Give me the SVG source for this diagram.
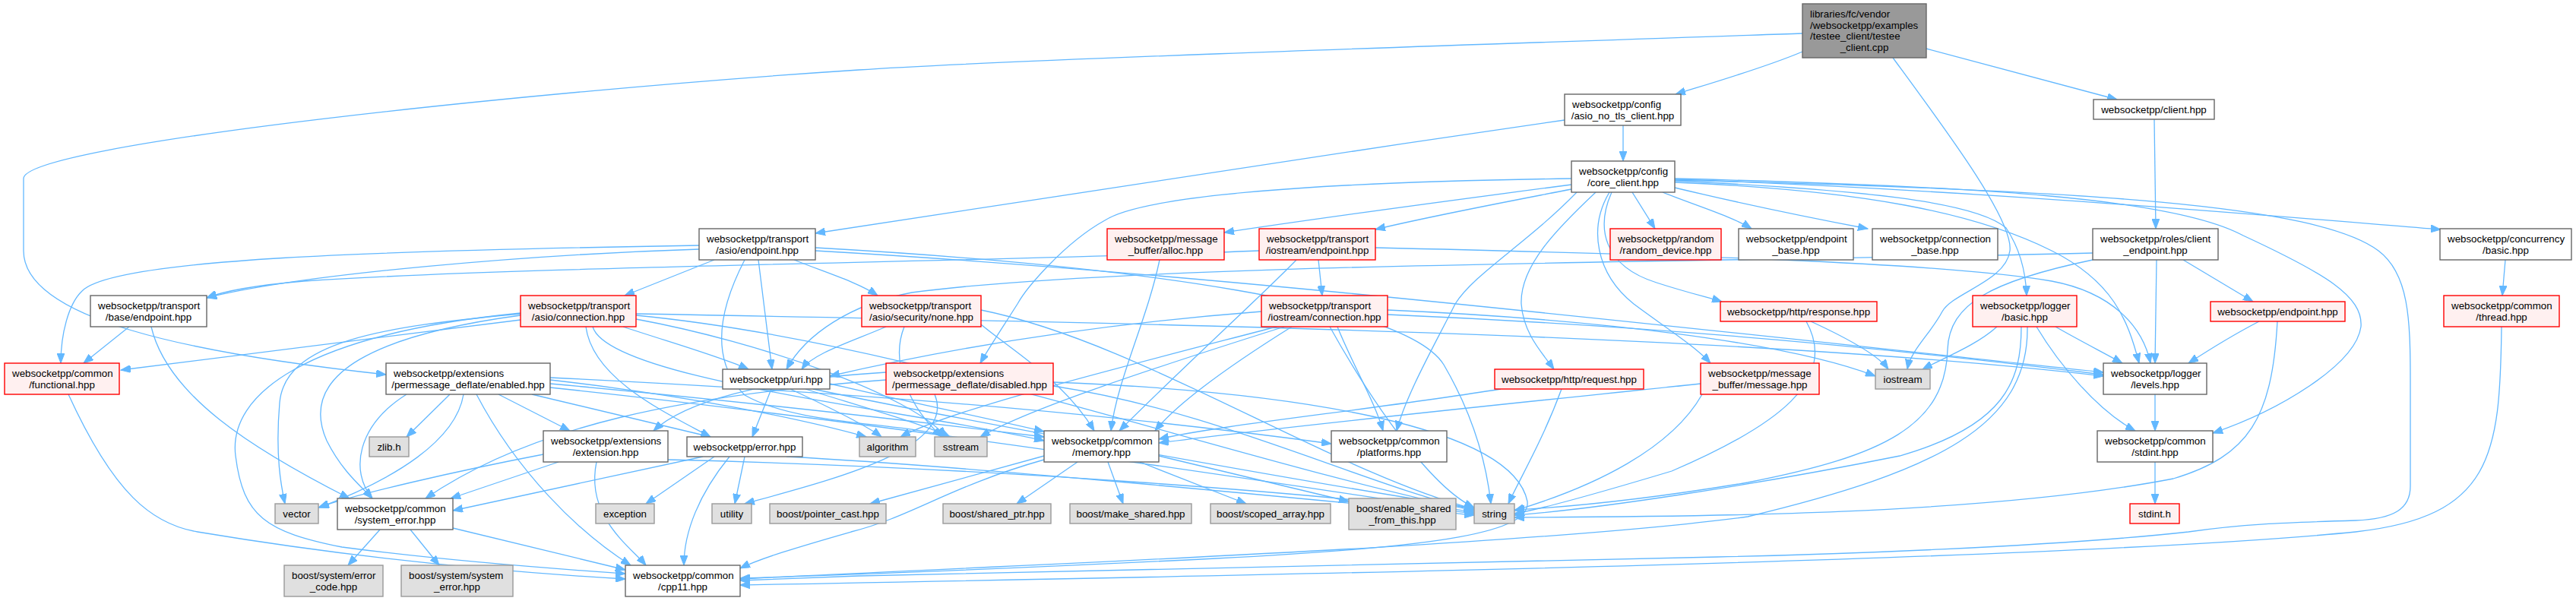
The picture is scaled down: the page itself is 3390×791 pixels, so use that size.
<svg xmlns="http://www.w3.org/2000/svg" width="3390" height="791" viewBox="0 0 3390 791">
<style>
.e{fill:none;stroke:#63b8ff;stroke-width:1.3;marker-end:url(#ah)}
.w{fill:#ffffff;stroke:#666666;stroke-width:1.4}
.g{fill:#e0e0e0;stroke:#999999;stroke-width:1.4}
.r{fill:#fff0f0;stroke:#ff0000;stroke-width:1.4}
.m{fill:#999999;stroke:#666666;stroke-width:1.4}
text{font-family:"Liberation Sans",Arial,Helvetica,sans-serif;font-size:13.33px;fill:#000000}
.s{text-anchor:start}
.c{text-anchor:middle}
</style>
<defs>
<marker id="ah" markerUnits="userSpaceOnUse" markerWidth="14" markerHeight="10" refX="13" refY="5" orient="auto"><path d="M0,0 L13,5 L0,10 z" fill="#63b8ff" stroke="#63b8ff" stroke-width="1"/></marker>
</defs>
<rect width="3390" height="791" fill="#ffffff"/>
<g id="connectors">
<path class="e" d="M2372,68 C2320,90 2250,110 2205,124"/>
<path class="e" d="M2535,64 L2786,131"/>
<path class="e" d="M2372,44 C1900,60 1300,80 1130,92 C700,120 31,190 31,235 L31,330 C31,420 250,465 508,493"/>
<path class="e" d="M2491,76 C2560,170 2650,290 2645,330 C2640,370 2570,385 2556,410 C2540,440 2515,460 2510,486"/>
<path class="e" d="M2136,165 L2136,212"/>
<path class="e" d="M2059,158 C1700,210 1300,270 1073,307"/>
<path class="e" d="M2835,157 L2837,301"/>
<path class="e" d="M2068,243 C1900,265 1750,285 1611,306"/>
<path class="e" d="M2068,249 C1960,270 1880,285 1810,302"/>
<path class="e" d="M2148,253 L2178,301"/>
<path class="e" d="M2188,253 C2230,270 2280,285 2305,301"/>
<path class="e" d="M2204,247 C2300,270 2400,290 2458,301"/>
<path class="e" d="M2204,236 C2600,250 3000,285 3212,302"/>
<path class="e" d="M2204,237 C2750,250 3050,270 3130,330 C3170,360 3172,420 3172,500 L3172,640 C3172,670 3150,683 3100,685 C3000,688 2950,690 2880,700 C2700,720 2400,730 2260,733 C1800,745 1400,752 1130,758 L974,764"/>
<path class="e" d="M2204,235 C2600,245 2860,260 2952,310 C3060,360 3110,390 3107,430 C3100,480 3000,540 2912,570"/>
<path class="e" d="M2204,238 C2450,250 2600,265 2640,300 C2660,330 2666,360 2667,389"/>
<path class="e" d="M2204,240 C2450,250 2600,280 2700,330 C2780,370 2800,420 2815,478"/>
<path class="e" d="M2100,253 C2050,300 2000,350 2002,400 C2005,440 2030,465 2045,486"/>
<path class="e" d="M2075,253 C2010,320 1940,360 1915,400 C1890,450 1850,520 1838,567"/>
<path class="e" d="M2121,253 C2100,300 2110,350 2180,372 C2220,385 2250,392 2266,397"/>
<path class="e" d="M2118,253 C2090,300 2100,360 2150,400 C2190,430 2230,455 2251,478"/>
<path class="e" d="M2068,235 C1700,240 1500,260 1454,290 C1400,320 1350,380 1339,400 C1320,430 1300,460 1290,478"/>
<path class="e" d="M920,323 C500,330 150,340 108,383 C90,400 80,440 80,478"/>
<path class="e" d="M920,328 C700,335 400,360 272,392"/>
<path class="e" d="M940,342 L822,389"/>
<path class="e" d="M998,342 C1003,380 1010,440 1016,486"/>
<path class="e" d="M1045,342 C1090,360 1130,372 1155,389"/>
<path class="e" d="M980,342 C950,400 930,470 980,520 C1050,560 1180,555 1250,575"/>
<path class="e" d="M1073,330 C1600,360 2200,430 2768,490"/>
<path class="e" d="M1073,326 C1500,350 1850,400 1900,480 C1935,540 1955,600 1962,663"/>
<path class="e" d="M1657,330 C1300,345 700,350 400,370 C330,376 290,385 272,392"/>
<path class="e" d="M1735,342 L1740,389"/>
<path class="e" d="M1706,342 C1670,380 1560,480 1473,567"/>
<path class="e" d="M1810,326 C2200,335 2550,345 2700,370 C2780,385 2820,430 2830,478"/>
<path class="e" d="M685,421 L159,487"/>
<path class="e" d="M685,413 C500,430 375,450 368,530 C362,600 370,640 375,663"/>
<path class="e" d="M685,415 C500,440 390,490 430,580 C450,620 475,640 490,656"/>
<path class="e" d="M685,412 C400,440 300,520 310,600 C320,680 350,700 450,720 C600,740 750,750 823,755"/>
<path class="e" d="M820,430 C880,450 950,470 985,486"/>
<path class="e" d="M771,430 C780,500 880,545 935,575"/>
<path class="e" d="M780,430 C800,500 1200,540 1374,580"/>
<path class="e" d="M837,415 C1200,450 1600,600 1940,672"/>
<path class="e" d="M837,413 C1500,425 2300,440 2768,495"/>
<path class="e" d="M837,420 C1000,450 1200,520 1245,575"/>
<path class="e" d="M1166,430 C1120,450 1070,465 1055,486"/>
<path class="e" d="M1291,427 C1330,460 1400,500 1440,567"/>
<path class="e" d="M1190,430 C1170,480 1200,540 1240,575"/>
<path class="e" d="M1291,408 C1500,450 1750,620 1940,670"/>
<path class="e" d="M1660,410 C1400,430 1200,470 1092,495"/>
<path class="e" d="M1690,430 C1500,490 1350,540 1290,575"/>
<path class="e" d="M1700,430 C1620,480 1550,530 1520,567"/>
<path class="e" d="M1760,430 C1780,480 1810,530 1820,567"/>
<path class="e" d="M1750,430 C1800,520 1880,640 1940,668"/>
<path class="e" d="M1826,414 C2200,430 2500,460 2768,493"/>
<path class="e" d="M1826,408 C2100,420 2350,450 2468,495"/>
<path class="e" d="M1680,430 C1450,490 1250,540 1185,575"/>
<path class="e" d="M2383,423 C2420,440 2470,465 2485,486"/>
<path class="e" d="M2377,423 C2420,500 2340,560 2200,620 C2100,650 2030,670 1993,676"/>
<path class="e" d="M1975,512 C1800,540 1600,560 1525,578"/>
<path class="e" d="M2055,512 C2030,580 2000,630 1985,663"/>
<path class="e" d="M2238,505 C2000,530 1700,560 1525,583"/>
<path class="e" d="M2240,519 C2200,590 2100,640 1993,672"/>
<path class="e" d="M2628,430 C2600,455 2560,470 2530,486"/>
<path class="e" d="M2705,430 C2740,450 2770,465 2793,478"/>
<path class="e" d="M2680,430 C2710,480 2760,540 2810,567"/>
<path class="e" d="M2660,430 C2660,500 2640,560 2500,600 C2300,640 2100,670 1993,678"/>
<path class="e" d="M2668,430 C2670,560 2550,620 2300,680 C2000,720 1300,745 974,762"/>
<path class="e" d="M2973,423 C2940,440 2900,465 2880,478"/>
<path class="e" d="M2997,423 C2990,550 2960,600 2860,630 C2600,680 2200,680 1993,681"/>
<path class="e" d="M3292,430 C3290,600 3280,680 3100,700 C2700,740 1500,760 974,770"/>
<path class="e" d="M3297,342 L3293,389"/>
<path class="e" d="M2873,342 L2965,397"/>
<path class="e" d="M2838,342 L2836,478"/>
<path class="e" d="M2754,333 C2300,345 1500,345 1200,385 C1120,400 1060,440 1035,486"/>
<path class="e" d="M2754,342 C2620,370 2565,400 2563,460 C2560,560 2480,600 2300,635 C2150,660 2050,668 1993,671"/>
<path class="e" d="M2836,519 L2836,567"/>
<path class="e" d="M2836,608 L2836,663"/>
<path class="e" d="M90,519 C150,650 200,690 260,700 C500,740 700,755 823,762"/>
<path class="e" d="M170,430 L110,478"/>
<path class="e" d="M199,430 C220,520 330,590 460,656"/>
<path class="e" d="M1526,342 C1510,420 1470,500 1462,567"/>
<path class="e" d="M535,519 C470,560 460,620 490,656"/>
<path class="e" d="M592,519 L535,575"/>
<path class="e" d="M610,519 C600,580 520,630 420,668"/>
<path class="e" d="M627,519 C680,620 760,700 830,744"/>
<path class="e" d="M656,519 L750,567"/>
<path class="e" d="M700,519 L935,575"/>
<path class="e" d="M724,500 C900,520 1050,550 1140,575"/>
<path class="e" d="M724,505 C1000,530 1250,560 1374,575"/>
<path class="e" d="M724,497 C1200,520 1500,550 1752,584"/>
<path class="e" d="M724,510 C1200,560 1700,640 1940,674"/>
<path class="e" d="M1386,503 C1700,515 1990,560 2010,660 C2015,700 1900,720 1600,735 C1300,750 1100,757 974,761"/>
<path class="e" d="M1166,500 C900,520 700,560 560,656"/>
<path class="e" d="M1230,519 C1260,590 1100,630 980,663"/>
<path class="e" d="M1386,508 C1600,540 1800,640 1940,671"/>
<path class="e" d="M1166,490 C1000,500 900,530 860,567"/>
<path class="e" d="M1015,512 L990,575"/>
<path class="e" d="M1040,512 C1100,540 1140,560 1160,575"/>
<path class="e" d="M1060,512 C1150,540 1220,560 1250,575"/>
<path class="e" d="M1070,512 C1300,560 1750,640 1940,669"/>
<path class="e" d="M1092,505 C1200,530 1320,555 1374,568"/>
<path class="e" d="M785,608 C770,680 830,720 850,744"/>
<path class="e" d="M735,608 L593,656"/>
<path class="e" d="M715,598 C600,620 470,650 419,668"/>
<path class="e" d="M879,605 C1300,615 1750,650 1940,676"/>
<path class="e" d="M925,601 L596,672"/>
<path class="e" d="M940,601 L850,663"/>
<path class="e" d="M980,601 L967,663"/>
<path class="e" d="M960,601 C920,650 900,700 900,744"/>
<path class="e" d="M1035,601 C1300,615 1750,660 1940,678"/>
<path class="e" d="M1374,600 L1145,663"/>
<path class="e" d="M1418,608 L1338,663"/>
<path class="e" d="M1458,608 L1478,663"/>
<path class="e" d="M1500,608 L1640,663"/>
<path class="e" d="M1525,600 L1775,660"/>
<path class="e" d="M1374,605 C1250,640 1200,680 1120,700 C1050,720 1000,735 974,748"/>
<path class="e" d="M500,697 L458,744"/>
<path class="e" d="M540,697 L578,744"/>
<path class="e" d="M596,695 L823,750"/>
</g>
<g id="node-main"><rect class="m" x="2372" y="5" width="163" height="71"/><text class="s" x="2382" y="23">libraries/fc/vendor</text><text class="s" x="2382" y="37.7">/websocketpp/examples</text><text class="s" x="2382" y="52.3">/testee_client/testee</text><text class="c" x="2453.5" y="67">_client.cpp</text></g>
<g id="node-asio-no-tls-client"><rect class="w" x="2059" y="124" width="153" height="41"/><text class="s" x="2069" y="142">websocketpp/config</text><text class="c" x="2135.5" y="156.7">/asio_no_tls_client.hpp</text></g>
<g id="node-client"><rect class="w" x="2755" y="131" width="159" height="26"/><text class="c" x="2834.5" y="149">websocketpp/client.hpp</text></g>
<g id="node-core-client"><rect class="w" x="2068" y="212" width="136" height="41"/><text class="s" x="2078" y="230">websocketpp/config</text><text class="c" x="2136" y="244.7">/core_client.hpp</text></g>
<g id="node-asio-endpoint"><rect class="w" x="920" y="301" width="153" height="41"/><text class="s" x="930" y="319">websocketpp/transport</text><text class="c" x="996.5" y="333.7">/asio/endpoint.hpp</text></g>
<g id="node-alloc"><rect class="r" x="1457" y="301" width="154" height="41"/><text class="s" x="1467" y="319">websocketpp/message</text><text class="c" x="1534" y="333.7">_buffer/alloc.hpp</text></g>
<g id="node-iostream-endpoint"><rect class="r" x="1657" y="301" width="153" height="41"/><text class="s" x="1667" y="319">websocketpp/transport</text><text class="c" x="1733.5" y="333.7">/iostream/endpoint.hpp</text></g>
<g id="node-random-device"><rect class="r" x="2119" y="301" width="146" height="41"/><text class="s" x="2129" y="319">websocketpp/random</text><text class="c" x="2192" y="333.7">/random_device.hpp</text></g>
<g id="node-endpoint-base"><rect class="w" x="2288" y="301" width="151" height="41"/><text class="s" x="2298" y="319">websocketpp/endpoint</text><text class="c" x="2363.5" y="333.7">_base.hpp</text></g>
<g id="node-connection-base"><rect class="w" x="2464" y="301" width="165" height="41"/><text class="s" x="2474" y="319">websocketpp/connection</text><text class="c" x="2546.5" y="333.7">_base.hpp</text></g>
<g id="node-client-endpoint"><rect class="w" x="2754" y="301" width="165" height="41"/><text class="s" x="2764" y="319">websocketpp/roles/client</text><text class="c" x="2836.5" y="333.7">_endpoint.hpp</text></g>
<g id="node-concurrency-basic"><rect class="w" x="3211" y="301" width="173" height="41"/><text class="s" x="3221" y="319">websocketpp/concurrency</text><text class="c" x="3297.5" y="333.7">/basic.hpp</text></g>
<g id="node-base-endpoint"><rect class="w" x="119" y="389" width="153" height="41"/><text class="s" x="129" y="407">websocketpp/transport</text><text class="c" x="195.5" y="421.7">/base/endpoint.hpp</text></g>
<g id="node-asio-connection"><rect class="r" x="685" y="389" width="152" height="41"/><text class="s" x="695" y="407">websocketpp/transport</text><text class="c" x="761" y="421.7">/asio/connection.hpp</text></g>
<g id="node-security-none"><rect class="r" x="1134" y="389" width="157" height="41"/><text class="s" x="1144" y="407">websocketpp/transport</text><text class="c" x="1212.5" y="421.7">/asio/security/none.hpp</text></g>
<g id="node-iostream-connection"><rect class="r" x="1660" y="389" width="166" height="41"/><text class="s" x="1670" y="407">websocketpp/transport</text><text class="c" x="1743" y="421.7">/iostream/connection.hpp</text></g>
<g id="node-http-response"><rect class="r" x="2264" y="397" width="206" height="26"/><text class="c" x="2367" y="415">websocketpp/http/response.hpp</text></g>
<g id="node-logger-basic"><rect class="r" x="2596" y="389" width="137" height="41"/><text class="s" x="2606" y="407">websocketpp/logger</text><text class="c" x="2664.5" y="421.7">/basic.hpp</text></g>
<g id="node-endpoint"><rect class="r" x="2909" y="397" width="177" height="26"/><text class="c" x="2997.5" y="415">websocketpp/endpoint.hpp</text></g>
<g id="node-thread"><rect class="r" x="3216" y="389" width="152" height="41"/><text class="s" x="3226" y="407">websocketpp/common</text><text class="c" x="3292" y="421.7">/thread.hpp</text></g>
<g id="node-functional"><rect class="r" x="6" y="478" width="151" height="41"/><text class="s" x="16" y="496">websocketpp/common</text><text class="c" x="81.5" y="510.7">/functional.hpp</text></g>
<g id="node-pmd-enabled"><rect class="w" x="508" y="478" width="216" height="41"/><text class="s" x="518" y="496">websocketpp/extensions</text><text class="c" x="616" y="510.7">/permessage_deflate/enabled.hpp</text></g>
<g id="node-uri"><rect class="w" x="951" y="486" width="141" height="26"/><text class="c" x="1021.5" y="504">websocketpp/uri.hpp</text></g>
<g id="node-pmd-disabled"><rect class="r" x="1166" y="478" width="220" height="41"/><text class="s" x="1176" y="496">websocketpp/extensions</text><text class="c" x="1276" y="510.7">/permessage_deflate/disabled.hpp</text></g>
<g id="node-http-request"><rect class="r" x="1967" y="486" width="196" height="26"/><text class="c" x="2065" y="504">websocketpp/http/request.hpp</text></g>
<g id="node-message"><rect class="r" x="2238" y="478" width="156" height="41"/><text class="s" x="2248" y="496">websocketpp/message</text><text class="c" x="2316" y="510.7">_buffer/message.hpp</text></g>
<g id="node-iostream"><rect class="g" x="2468" y="486" width="72" height="26"/><text class="c" x="2504" y="504">iostream</text></g>
<g id="node-levels"><rect class="w" x="2768" y="478" width="136" height="41"/><text class="s" x="2778" y="496">websocketpp/logger</text><text class="c" x="2836" y="510.7">/levels.hpp</text></g>
<g id="node-zlib"><rect class="g" x="486" y="575" width="52" height="26"/><text class="c" x="512" y="593">zlib.h</text></g>
<g id="node-extension"><rect class="w" x="715" y="567" width="164" height="41"/><text class="s" x="725" y="585">websocketpp/extensions</text><text class="c" x="797" y="599.7">/extension.hpp</text></g>
<g id="node-error"><rect class="w" x="904" y="575" width="152" height="26"/><text class="c" x="980" y="593">websocketpp/error.hpp</text></g>
<g id="node-algorithm"><rect class="g" x="1131" y="575" width="74" height="26"/><text class="c" x="1168" y="593">algorithm</text></g>
<g id="node-sstream"><rect class="g" x="1230" y="575" width="69" height="26"/><text class="c" x="1264.5" y="593">sstream</text></g>
<g id="node-memory"><rect class="w" x="1374" y="567" width="151" height="41"/><text class="s" x="1384" y="585">websocketpp/common</text><text class="c" x="1449.5" y="599.7">/memory.hpp</text></g>
<g id="node-platforms"><rect class="w" x="1752" y="567" width="152" height="41"/><text class="s" x="1762" y="585">websocketpp/common</text><text class="c" x="1828" y="599.7">/platforms.hpp</text></g>
<g id="node-stdint-hpp"><rect class="w" x="2760" y="567" width="152" height="41"/><text class="s" x="2770" y="585">websocketpp/common</text><text class="c" x="2836" y="599.7">/stdint.hpp</text></g>
<g id="node-vector"><rect class="g" x="362" y="663" width="57" height="26"/><text class="c" x="390.5" y="681">vector</text></g>
<g id="node-system-error"><rect class="w" x="444" y="656" width="152" height="41"/><text class="s" x="454" y="674">websocketpp/common</text><text class="c" x="520" y="688.7">/system_error.hpp</text></g>
<g id="node-exception"><rect class="g" x="784" y="663" width="77" height="26"/><text class="c" x="822.5" y="681">exception</text></g>
<g id="node-utility"><rect class="g" x="937" y="663" width="52" height="26"/><text class="c" x="963" y="681">utility</text></g>
<g id="node-pointer-cast"><rect class="g" x="1013" y="663" width="153" height="26"/><text class="c" x="1089.5" y="681">boost/pointer_cast.hpp</text></g>
<g id="node-shared-ptr"><rect class="g" x="1241" y="663" width="142" height="26"/><text class="c" x="1312" y="681">boost/shared_ptr.hpp</text></g>
<g id="node-make-shared"><rect class="g" x="1408" y="663" width="160" height="26"/><text class="c" x="1488" y="681">boost/make_shared.hpp</text></g>
<g id="node-scoped-array"><rect class="g" x="1593" y="663" width="158" height="26"/><text class="c" x="1672" y="681">boost/scoped_array.hpp</text></g>
<g id="node-enable-shared"><rect class="g" x="1775" y="656" width="141" height="41"/><text class="s" x="1785" y="674">boost/enable_shared</text><text class="c" x="1845.5" y="688.7">_from_this.hpp</text></g>
<g id="node-string"><rect class="g" x="1940" y="663" width="53" height="26"/><text class="c" x="1966.5" y="681">string</text></g>
<g id="node-stdint-h"><rect class="r" x="2803" y="663" width="65" height="26"/><text class="c" x="2835.5" y="681">stdint.h</text></g>
<g id="node-error-code"><rect class="g" x="374" y="744" width="130" height="41"/><text class="s" x="384" y="762">boost/system/error</text><text class="c" x="439" y="776.7">_code.hpp</text></g>
<g id="node-boost-system-error"><rect class="g" x="528" y="744" width="147" height="41"/><text class="s" x="538" y="762">boost/system/system</text><text class="c" x="601.5" y="776.7">_error.hpp</text></g>
<g id="node-cpp11"><rect class="w" x="823" y="744" width="151" height="41"/><text class="s" x="833" y="762">websocketpp/common</text><text class="c" x="898.5" y="776.7">/cpp11.hpp</text></g>
</svg>
